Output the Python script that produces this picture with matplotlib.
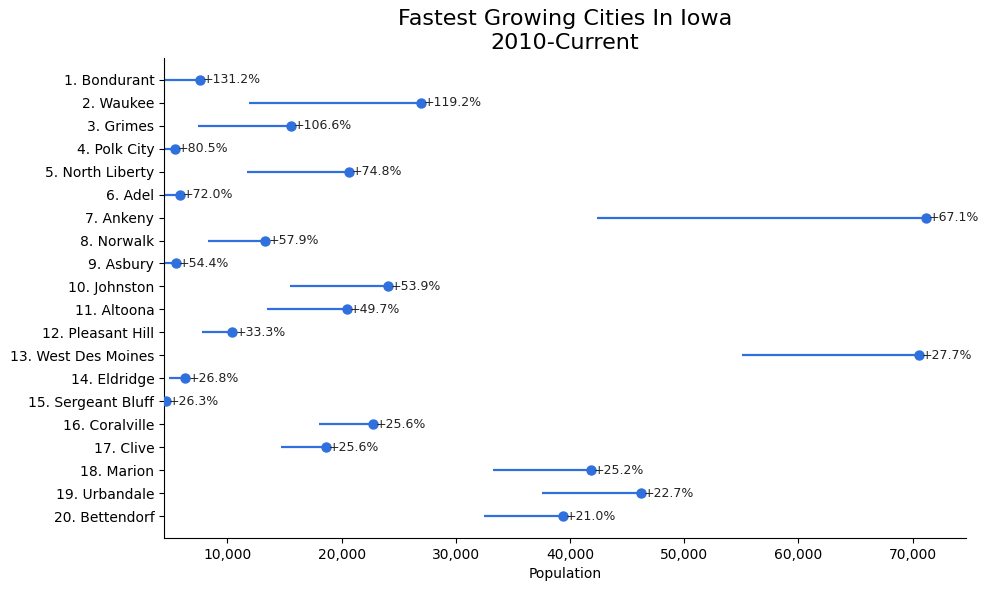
import matplotlib as mpl
mpl.use('Agg')
import matplotlib.pyplot as plt
from matplotlib.ticker import FuncFormatter

cities = [
    '1. Bondurant', '2. Waukee', '3. Grimes', '4. Polk City', '5. North Liberty',
    '6. Adel', '7. Ankeny', '8. Norwalk', '9. Asbury', '10. Johnston',
    '11. Altoona', '12. Pleasant Hill', '13. West Des Moines', '14. Eldridge',
    '15. Sergeant Bluff', '16. Coralville', '17. Clive', '18. Marion',
    '19. Urbandale', '20. Bettendorf',
]
pop_2010 = [3300, 11930, 7400, 3010, 11700, 3420, 42400, 8300, 3580, 15500,
            13500, 7750, 55100, 4900, 3680, 18000, 14700, 33300, 37550, 32500]
pop_current = [7630, 26930, 15550, 5440, 20610, 5880, 71140, 13330, 5530, 24035,
               20440, 10440, 70530, 6320, 4650, 22720, 18600, 41840, 46230, 39390]
pct_change = [131.2, 119.2, 106.6, 80.5, 74.8, 72.0, 67.1, 57.9, 54.4, 53.9,
              49.7, 33.3, 27.7, 26.8, 26.3, 25.6, 25.6, 25.2, 22.7, 21.0]

color = '#2f6fde'

fig = plt.figure(figsize=(9.88, 5.9), dpi=100)
ax = fig.add_axes([0.166, 0.088, 0.812, 0.814])

ypos = list(range(len(cities)))
ax.hlines(ypos, pop_2010, pop_current, color=color, linewidth=1.6)
ax.scatter(pop_current, ypos, color=color, s=42, zorder=3)
for y, x, p in zip(ypos, pop_current, pct_change):
    ax.annotate('+{:.1f}%'.format(p), (x, y), xytext=(2, 0), textcoords='offset points',
                va='center', ha='left', fontsize=9, color='#222222')

ax.set_yticks(ypos)
ax.set_yticklabels(cities, fontsize=10)
ax.invert_yaxis()
ax.set_xlim(4450, 74700)
ax.xaxis.set_major_formatter(FuncFormatter(lambda v, _: '{:,.0f}'.format(v)))
ax.set_xlabel('Population', fontsize=10)
ax.set_title('Fastest Growing Cities In Iowa\n2010-Current', fontsize=16, linespacing=1.25)
ax.spines['top'].set_visible(False)
ax.spines['right'].set_visible(False)

fig.savefig('out.png', dpi=100)
